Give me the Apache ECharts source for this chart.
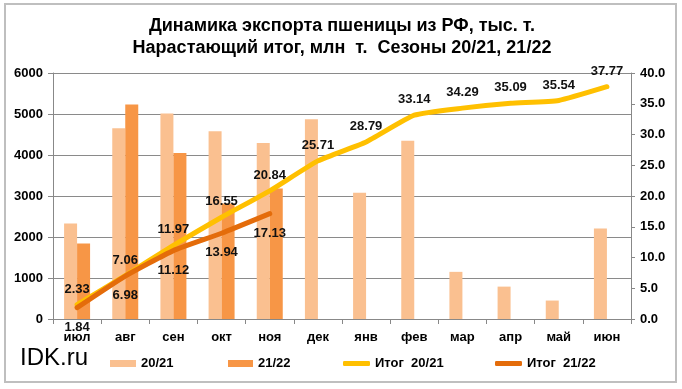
<!DOCTYPE html>
<html>
<head>
<meta charset="utf-8">
<script src="https://cdn.jsdelivr.net/npm/echarts@6/dist/echarts.min.js"></script>
<style>html,body{margin:0;padding:0;background:#fff}#c{width:682px;height:389px}</style>
</head>
<body>
<div id="c"></div>
<script>
const months = ['июл','авг','сен','окт','ноя','дек','янв','фев','мар','апр','май','июн'];
const exp2021 = [2330, 4650, 5010, 4580, 4290, 4870, 3080, 4345, 1150, 790, 450, 2210];
const exp2122 = [1840, 5230, 4050, 2820, 3180];
const cum2021 = [2.33, 7.06, 11.97, 16.55, 20.84, 25.71, 28.79, 33.14, 34.29, 35.09, 35.54, 37.77];
const cum2122 = [1.84, 6.98, 11.12, 13.94, 17.13];
const titleText = 'Динамика экспорта пшеницы из РФ, тыс. т.\nНарастающий итог, млн  т.  Сезоны 20/21, 21/22';
const names = ['20/21', '21/22', 'Итог  20/21', 'Итог  21/22'];

const FONT = 'Liberation Sans, Arial, sans-serif';
const lbl = {fontFamily: FONT, fontSize: 13, fontWeight: 'bold', color: '#111'};

const chart = echarts.init(document.getElementById('c'), null, {renderer: 'canvas'});
const legendCommon = {orient: 'horizontal', selectedMode: false, padding: 0, textStyle: {fontFamily: FONT, fontSize: 13, fontWeight: 'bold', color: '#000'}};
chart.setOption({
  animation: false,
  backgroundColor: '#fff',
  title: {
    text: titleText, left: 342, top: 15, textAlign: 'center', padding: 0,
    textStyle: {fontFamily: FONT, fontSize: 18, fontWeight: 'bold', color: '#000', lineHeight: 22}
  },
  graphic: [
    {type: 'rect', shape: {x: 5, y: 4, width: 671, height: 378}, style: {fill: 'none', stroke: '#BFBFBF', lineWidth: 2}, z: 100},
    {type: 'text', left: 20, top: 346, style: {text: 'IDK.ru', font: '24px ' + FONT, fill: '#000'}}
  ],
  legend: [
    Object.assign({}, legendCommon, {data: [names[0]], left: 110, top: 357, icon: 'rect', itemWidth: 26, itemHeight: 7}),
    Object.assign({}, legendCommon, {data: [names[1]], left: 228, top: 357, icon: 'rect', itemWidth: 25, itemHeight: 7}),
    Object.assign({}, legendCommon, {data: [names[2]], left: 343, top: 357, icon: 'roundRect', itemWidth: 27, itemHeight: 5}),
    Object.assign({}, legendCommon, {data: [names[3]], left: 495, top: 357, icon: 'roundRect', itemWidth: 27, itemHeight: 5})
  ],
  grid: {left: 53, right: 51, top: 73, bottom: 70},
  xAxis: {
    type: 'category', data: months, boundaryGap: true,
    axisLine: {lineStyle: {color: '#888', width: 1}},
    axisTick: {show: true, length: 5, alignWithLabel: false, lineStyle: {color: '#888'}},
    axisLabel: {fontFamily: FONT, fontSize: 13, fontWeight: 'bold', color: '#000', margin: 12}
  },
  yAxis: [
    {
      type: 'value', min: 0, max: 6000, interval: 1000,
      axisLine: {show: true, lineStyle: {color: '#888'}},
      axisTick: {show: true, length: 5, lineStyle: {color: '#888'}},
      splitLine: {show: true, lineStyle: {color: '#8a8a8a', width: 1}},
      axisLabel: {fontFamily: FONT, fontSize: 13, fontWeight: 'bold', color: '#000', margin: 10,
        formatter: v => String(v)}
    },
    {
      type: 'value', min: 0, max: 40, interval: 5, position: 'right',
      axisLine: {show: true, lineStyle: {color: '#888'}},
      axisTick: {show: true, length: 4, lineStyle: {color: '#888'}},
      splitLine: {show: false},
      axisLabel: {fontFamily: FONT, fontSize: 13, fontWeight: 'bold', color: '#000', margin: 9,
        formatter: v => v.toFixed(1)}
    }
  ],
  series: [
    {name: names[0], type: 'bar', data: exp2021, barWidth: 13, barGap: '0%', itemStyle: {color: '#FAC090'}, z: 2},
    {name: names[1], type: 'bar', data: exp2122, barWidth: 13, barGap: '0%', itemStyle: {color: '#F79646'}, z: 2},
    {name: names[2], type: 'line', yAxisIndex: 1, data: cum2021, symbol: 'circle', symbolSize: 0, showSymbol: true, smooth: 0.15,
      lineStyle: {color: '#FFC000', width: 5, cap: 'round', join: 'round'}, itemStyle: {color: '#FFC000'},
      label: Object.assign({show: true, position: 'top', distance: 9}, lbl), labelLayout: {hideOverlap: false}, z: 5},
    {name: names[3], type: 'line', yAxisIndex: 1, data: cum2122, symbol: 'circle', symbolSize: 0, showSymbol: true, smooth: 0.15,
      lineStyle: {color: '#E46C0A', width: 5, cap: 'round', join: 'round'}, itemStyle: {color: '#E46C0A'},
      label: Object.assign({show: true, position: 'bottom', distance: 13}, lbl), labelLayout: {hideOverlap: false}, z: 6}
  ]
});
</script>
</body>
</html>
